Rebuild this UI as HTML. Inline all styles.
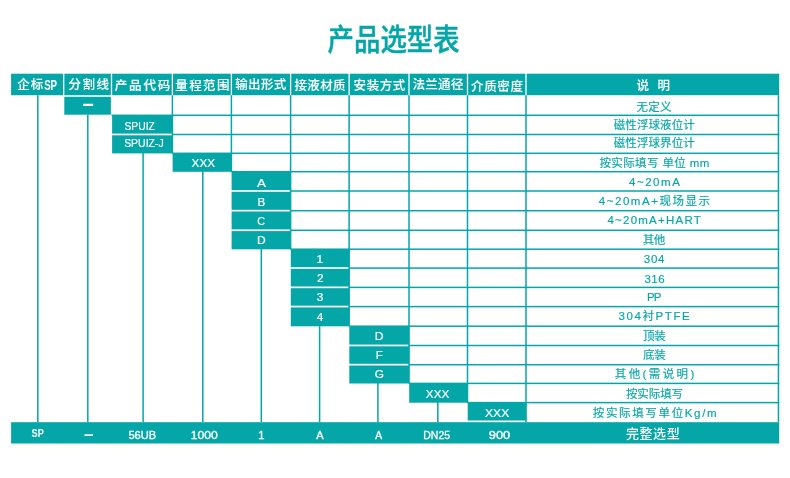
<!DOCTYPE html>
<html lang="zh-CN"><head><meta charset="utf-8"><title>产品选型表</title>
<style>
html,body{margin:0;padding:0;background:#fff;}
body{width:790px;height:478px;overflow:hidden;}
svg{display:block}

text{font-family:"Liberation Sans","Noto Sans CJK SC",sans-serif;white-space:pre}
.title{font-size:28.5px;font-weight:500;stroke:#04a6a8;stroke-width:0.45px;font-family:"Noto Sans CJK SC","Liberation Sans",sans-serif}
.hd{font-size:12.5px;font-weight:500;stroke:#fff;stroke-width:0.12px;font-family:"Noto Sans CJK SC","Liberation Sans",sans-serif}
.hdl{font-size:13.5px;font-weight:700}
.bx{font-size:11.8px;font-weight:400;stroke:#fff;stroke-width:0.2px}
.dash{font-size:26px;font-weight:700}
.dashb{font-size:24px;font-weight:700}
.ds{font-size:11.5px;font-weight:400;stroke:#04a6a8;stroke-width:0.15px}
.br{font-size:11.8px;font-weight:400;stroke:#fff;stroke-width:0.35px}
.brb{font-size:11.4px;font-weight:700}
.brc{font-size:13px;font-weight:500;font-family:"Noto Sans CJK SC","Liberation Sans",sans-serif}

</style></head>
<body>
<svg width="790" height="478" viewBox="0 0 790 478">
<rect x="0" y="0" width="790" height="478" fill="#ffffff"/>
<rect x="11.10" y="73.70" width="51.95" height="21.50" fill="#04a6a8"/>
<rect x="64.35" y="73.70" width="46.50" height="21.50" fill="#04a6a8"/>
<rect x="112.15" y="73.70" width="59.60" height="21.50" fill="#04a6a8"/>
<rect x="173.05" y="73.70" width="57.70" height="21.50" fill="#04a6a8"/>
<rect x="232.05" y="73.70" width="57.90" height="21.50" fill="#04a6a8"/>
<rect x="291.25" y="73.70" width="57.20" height="21.50" fill="#04a6a8"/>
<rect x="349.75" y="73.70" width="58.60" height="21.50" fill="#04a6a8"/>
<rect x="409.65" y="73.70" width="57.20" height="21.50" fill="#04a6a8"/>
<rect x="468.15" y="73.70" width="57.20" height="21.50" fill="#04a6a8"/>
<rect x="526.65" y="73.70" width="252.55" height="21.50" fill="#04a6a8"/>
<rect x="64.30" y="96.80" width="46.55" height="17.90" fill="#04a6a8"/>
<rect x="112.10" y="115.40" width="60.60" height="18.20" fill="#04a6a8"/>
<rect x="112.10" y="135.30" width="60.60" height="18.10" fill="#04a6a8"/>
<rect x="172.60" y="153.40" width="59.10" height="18.40" fill="#04a6a8"/>
<rect x="231.60" y="171.80" width="59.30" height="18.30" fill="#04a6a8"/>
<rect x="231.60" y="191.80" width="59.30" height="18.00" fill="#04a6a8"/>
<rect x="231.60" y="211.50" width="59.30" height="17.90" fill="#04a6a8"/>
<rect x="231.60" y="231.10" width="59.30" height="18.20" fill="#04a6a8"/>
<rect x="290.80" y="249.30" width="58.60" height="17.90" fill="#04a6a8"/>
<rect x="290.80" y="268.90" width="58.60" height="17.60" fill="#04a6a8"/>
<rect x="290.80" y="288.20" width="58.60" height="17.50" fill="#04a6a8"/>
<rect x="290.80" y="307.40" width="58.60" height="18.90" fill="#04a6a8"/>
<rect x="349.30" y="326.30" width="60.00" height="18.30" fill="#04a6a8"/>
<rect x="349.30" y="346.30" width="60.00" height="17.50" fill="#04a6a8"/>
<rect x="349.30" y="365.50" width="60.00" height="18.00" fill="#04a6a8"/>
<rect x="409.20" y="383.50" width="58.60" height="19.20" fill="#04a6a8"/>
<rect x="467.70" y="402.70" width="58.60" height="17.80" fill="#04a6a8"/>
<rect x="111.50" y="114.55" width="667.70" height="1.50" fill="#04a6a8"/>
<rect x="172.40" y="133.75" width="606.80" height="1.50" fill="#04a6a8"/>
<rect x="172.40" y="152.55" width="606.80" height="1.50" fill="#04a6a8"/>
<rect x="231.40" y="170.95" width="547.80" height="1.50" fill="#04a6a8"/>
<rect x="290.60" y="190.25" width="488.60" height="1.50" fill="#04a6a8"/>
<rect x="290.60" y="209.95" width="488.60" height="1.50" fill="#04a6a8"/>
<rect x="290.60" y="229.55" width="488.60" height="1.50" fill="#04a6a8"/>
<rect x="290.60" y="248.45" width="488.60" height="1.50" fill="#04a6a8"/>
<rect x="349.10" y="267.35" width="430.10" height="1.50" fill="#04a6a8"/>
<rect x="349.10" y="286.65" width="430.10" height="1.50" fill="#04a6a8"/>
<rect x="349.10" y="305.85" width="430.10" height="1.50" fill="#04a6a8"/>
<rect x="349.10" y="325.45" width="430.10" height="1.50" fill="#04a6a8"/>
<rect x="409.00" y="344.75" width="370.20" height="1.50" fill="#04a6a8"/>
<rect x="409.00" y="363.95" width="370.20" height="1.50" fill="#04a6a8"/>
<rect x="409.00" y="382.65" width="370.20" height="1.50" fill="#04a6a8"/>
<rect x="467.50" y="401.85" width="311.70" height="1.50" fill="#04a6a8"/>
<rect x="171.65" y="95.20" width="1.50" height="58.10" fill="#04a6a8"/>
<rect x="230.65" y="95.20" width="1.50" height="76.50" fill="#04a6a8"/>
<rect x="289.85" y="95.20" width="1.50" height="154.00" fill="#04a6a8"/>
<rect x="348.35" y="95.20" width="1.50" height="231.00" fill="#04a6a8"/>
<rect x="408.25" y="95.20" width="1.50" height="288.20" fill="#04a6a8"/>
<rect x="466.75" y="95.20" width="1.50" height="307.40" fill="#04a6a8"/>
<rect x="525.25" y="95.20" width="1.50" height="327.00" fill="#04a6a8"/>
<rect x="777.70" y="95.20" width="1.50" height="327.00" fill="#04a6a8"/>
<rect x="37.05" y="95.20" width="1.50" height="327.00" fill="#04a6a8"/>
<rect x="87.05" y="114.80" width="1.50" height="307.40" fill="#04a6a8"/>
<rect x="142.35" y="152.80" width="1.50" height="269.40" fill="#04a6a8"/>
<rect x="202.05" y="171.20" width="1.50" height="251.00" fill="#04a6a8"/>
<rect x="260.55" y="248.70" width="1.50" height="173.50" fill="#04a6a8"/>
<rect x="318.85" y="325.70" width="1.50" height="96.50" fill="#04a6a8"/>
<rect x="377.15" y="382.90" width="1.50" height="39.30" fill="#04a6a8"/>
<rect x="437.05" y="402.10" width="1.50" height="20.10" fill="#04a6a8"/>
<rect x="11.10" y="422.20" width="768.10" height="21.30" fill="#04a6a8"/>
<text transform="translate(327.60 49.57) scale(0.901 1)" class="title" fill="#04a6a8" style="font-size:29.34px">产品选型表</text>
<text x="17.20" y="89.15" class="hd" fill="#fff" style="letter-spacing:1.10px" xml:space="preserve">企标</text>
<text transform="translate(44.14 89.50) scale(0.682 1)" class="hdl" fill="#fff" style="font-size:14.21px">SP</text>
<text x="68.55" y="89.15" class="hd" fill="#fff" style="letter-spacing:1.52px" xml:space="preserve">分割线</text>
<text x="114.70" y="89.75" class="hd" fill="#fff" style="letter-spacing:1.85px" xml:space="preserve">产品代码</text>
<text x="175.35" y="89.75" class="hd" fill="#fff" style="letter-spacing:1.35px" xml:space="preserve">量程范围</text>
<text x="235.20" y="89.45" class="hd" fill="#fff" style="letter-spacing:0.37px" xml:space="preserve">输出形式</text>
<text x="294.40" y="89.55" class="hd" fill="#fff" style="letter-spacing:0.38px" xml:space="preserve">接液材质</text>
<text x="353.60" y="89.55" class="hd" fill="#fff" style="letter-spacing:0.57px" xml:space="preserve">安装方式</text>
<text x="412.45" y="88.90" class="hd" fill="#fff" style="letter-spacing:0.32px" xml:space="preserve">法兰通径</text>
<text x="471.10" y="90.65" class="hd" fill="#fff" style="letter-spacing:0.62px" xml:space="preserve">介质密度</text>
<text x="636.50" y="90.10" class="hd" fill="#fff" style="letter-spacing:2.90px" xml:space="preserve">说 明</text>
<text transform="translate(83.20 110.93) scale(0.453 1)" class="dash" fill="#fff" style="font-size:21.84px">—</text>
<text transform="translate(124.44 130.25) scale(0.875 1)" class="bx" fill="#fff">SPUIZ</text>
<text transform="translate(124.14 147.45) scale(0.887 1)" class="bx" fill="#fff">SPUIZ-J</text>
<text transform="translate(191.55 167.18) scale(0.998 1)" class="bx" fill="#fff">XXX</text>
<text transform="translate(256.92 186.53) scale(1.131 1)" class="bx" fill="#fff">A</text>
<text transform="translate(257.52 205.72) scale(0.983 1)" class="bx" fill="#fff">B</text>
<text transform="translate(257.31 225.10) scale(0.914 1)" class="bx" fill="#fff">C</text>
<text transform="translate(256.98 244.32) scale(1.022 1)" class="bx" fill="#fff">D</text>
<text x="316.52" y="262.98" class="bx" fill="#fff">1</text>
<text x="317.10" y="282.38" class="bx" fill="#fff">2</text>
<text x="316.82" y="301.40" class="bx" fill="#fff">3</text>
<text x="316.85" y="320.98" class="bx" fill="#fff">4</text>
<text transform="translate(374.86 339.88) scale(1.037 1)" class="bx" fill="#fff">D</text>
<text transform="translate(375.82 359.17) scale(0.982 1)" class="bx" fill="#fff">F</text>
<text transform="translate(374.65 378.25) scale(1.000 1)" class="bx" fill="#fff">G</text>
<text transform="translate(425.85 397.57) scale(0.998 1)" class="bx" fill="#fff">XXX</text>
<text transform="translate(485.03 416.77) scale(1.025 1)" class="bx" fill="#fff">XXX</text>
<text x="636.50" y="110.88" class="ds" fill="#04a6a8" style="letter-spacing:0.30px" xml:space="preserve">无定义</text>
<text x="613.75" y="128.68" class="ds" fill="#04a6a8" style="letter-spacing:0.08px" xml:space="preserve">磁性浮球液位计</text>
<text x="613.75" y="146.68" class="ds" fill="#04a6a8" style="letter-spacing:0.08px" xml:space="preserve">磁性浮球界位计</text>
<text x="599.45" y="166.68" class="ds" fill="#04a6a8" style="letter-spacing:0.38px" xml:space="preserve">按实际填写 单位 mm</text>
<text x="628.95" y="185.88" class="ds" fill="#04a6a8" style="letter-spacing:1.55px" xml:space="preserve">4~20mA</text>
<text x="598.75" y="204.95" class="ds" fill="#04a6a8" style="letter-spacing:1.54px" xml:space="preserve">4~20mA+现场显示</text>
<text x="607.45" y="223.53" class="ds" fill="#04a6a8" style="letter-spacing:1.24px" xml:space="preserve">4~20mA+HART</text>
<text x="642.70" y="244.47" class="ds" fill="#04a6a8" style="letter-spacing:-0.50px" xml:space="preserve">其他</text>
<text x="643.70" y="263.48" class="ds" fill="#04a6a8" style="letter-spacing:0.80px" xml:space="preserve">304</text>
<text x="644.40" y="282.68" class="ds" fill="#04a6a8" style="letter-spacing:0.57px" xml:space="preserve">316</text>
<text x="646.90" y="301.30" class="ds" fill="#04a6a8" style="letter-spacing:-0.85px" xml:space="preserve">PP</text>
<text x="618.60" y="320.38" class="ds" fill="#04a6a8" style="letter-spacing:1.58px" xml:space="preserve">304衬PTFE</text>
<text x="642.90" y="340.07" class="ds" fill="#04a6a8" style="letter-spacing:-0.10px" xml:space="preserve">顶装</text>
<text x="642.90" y="359.48" class="ds" fill="#04a6a8" style="letter-spacing:-0.10px" xml:space="preserve">底装</text>
<text x="614.80" y="377.82" class="ds" fill="#04a6a8" style="letter-spacing:2.38px" xml:space="preserve">其他(需说明)</text>
<text x="625.95" y="398.18" class="ds" fill="#04a6a8" style="letter-spacing:-0.09px" xml:space="preserve">按实际填写</text>
<text x="592.75" y="416.73" class="ds" fill="#04a6a8" style="letter-spacing:1.65px" xml:space="preserve">按实际填写单位Kg/m</text>
<text transform="translate(31.50 436.85) scale(0.807 1)" class="brb" fill="#fff">SP</text>
<text transform="translate(84.50 439.62) scale(0.514 1)" class="dashb" fill="#fff" style="font-size:16.53px">—</text>
<text transform="translate(128.40 438.50) scale(0.939 1)" class="br" fill="#fff">56UB</text>
<text transform="translate(190.67 438.50) scale(1.033 1)" class="br" fill="#fff">1000</text>
<text transform="translate(258.15 438.62) scale(0.947 1)" class="br" fill="#fff">1</text>
<text transform="translate(316.34 438.62) scale(0.929 1)" class="br" fill="#fff">A</text>
<text transform="translate(375.16 438.62) scale(0.871 1)" class="br" fill="#fff">A</text>
<text transform="translate(423.29 438.50) scale(0.888 1)" class="br" fill="#fff">DN25</text>
<text transform="translate(488.78 438.50) scale(1.090 1)" class="br" fill="#fff">900</text>
<text x="626.00" y="438.20" class="brc" fill="#fff" style="letter-spacing:0.55px" xml:space="preserve">完整选型</text>
</svg>
</body></html>
